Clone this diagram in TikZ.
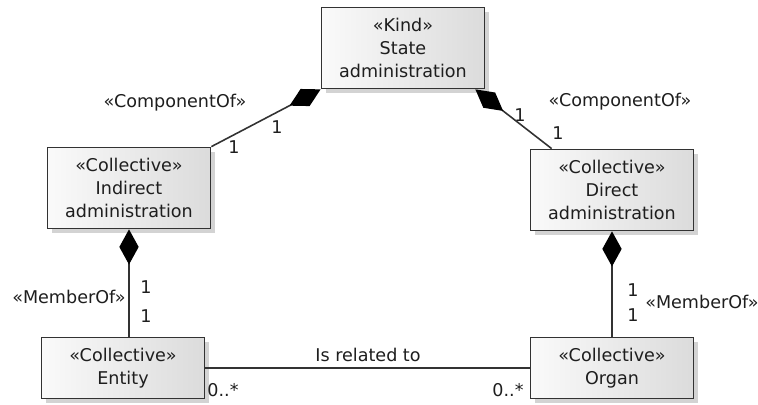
\documentclass[tikz,border=0pt]{standalone}
\usepackage{fontspec}
\setmainfont{DejaVu Sans}
\usetikzlibrary{positioning, arrows.meta, shadows, calc}
\definecolor{boxline}{RGB}{50,50,50}
\definecolor{txt}{RGB}{30,30,30}

\tikzset{
  classbox/.style={draw=boxline, line width=1pt, left color=gray!4, right color=gray!28,
    drop shadow={shadow xshift=0.09cm, shadow yshift=-0.09cm, opacity=0.35},
    minimum width=3.26cm, align=center, font=\fontsize{10}{13}\selectfont, text=txt, inner sep=0pt},
  tall/.style={minimum height=1.62cm},
  short/.style={minimum height=1.22cm},
  assoc/.style={draw=boxline, line width=0.9pt},
  comp/.style={assoc, {Diamond[length=20pt, width=11pt, fill=black, color=black]}-},
  lbl/.style={font=\fontsize{10}{12}\selectfont, text=txt, inner sep=1pt}
}

\begin{document}
\begin{tikzpicture}[x=0.02cm, y=-0.02cm]
        \useasboundingbox (0,0) rectangle (758,405);

        % Clases
        \node[classbox, tall] (state) at (403,48) {«Kind»\\State\\administration};
        \node[classbox, tall] (indirect) at (129,188) {«Collective»\\Indirect\\administration};
        \node[classbox, tall] (direct) at (612,190) {«Collective»\\Direct\\administration};
        \node[classbox, short] (entity) at (123,368) {«Collective»\\Entity};
        \node[classbox, short] (organ) at (612,368) {«Collective»\\Organ};

        % Composiciones
        \draw[comp] (state.south west) -- (indirect.north east);
        \draw[comp] ($(state.south east)+(-10,0)$) -- ($(direct.north west)+(22,0)$);
        \draw[comp] (indirect.south) -- (indirect.south |- entity.north);
        \draw[comp] (direct.south) -- (direct.south |- organ.north);

        % Asociacion
        \draw[assoc] (entity.east) -- (organ.west);

        % Etiquetas
        \node[lbl] (compL) at (175,103) {«ComponentOf»};
        \node[lbl] (multLa) at (277,127) {1};
        \node[lbl] (multLb) at (234,147) {1};
        \node[lbl] (compR) at (620,102) {«ComponentOf»};
        \node[lbl] (multRa) at (520,115) {1};
        \node[lbl] (multRb) at (558,133) {1};

        \node[lbl] (memL) at (69,297) {«MemberOf»};
        \node[lbl] (multMLa) at (146,287) {1};
        \node[lbl] (multMLb) at (146,316) {1};
        \node[lbl] (memR) at (702,302) {«MemberOf»};
        \node[lbl] (multMRa) at (633,290) {1};
        \node[lbl] (multMRb) at (633,315) {1};

        \node[lbl] (rel) at (368,355) {Is related to};
        \node[lbl] (zeroL) at (223,390) {0..*};
        \node[lbl] (zeroR) at (508,390) {0..*};
    \end{tikzpicture}
\end{document}
